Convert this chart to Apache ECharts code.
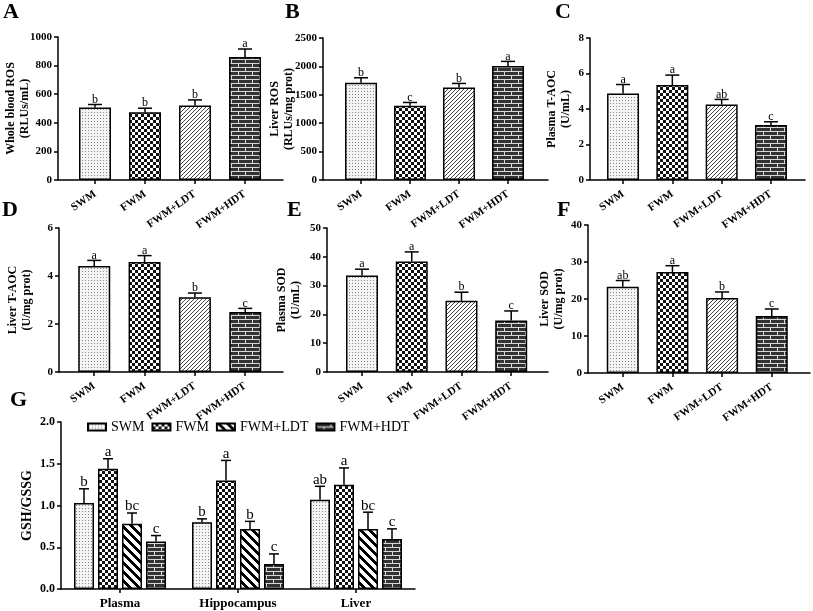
<!DOCTYPE html>
<html><head><meta charset="utf-8">
<script src="https://cdn.jsdelivr.net/npm/echarts@6/dist/echarts.min.js"></script>
<style>html,body{margin:0;padding:0;background:#fff}#c{width:813px;height:611px}</style>
</head><body><div id="c"></div>
<script>
// ---------------- DATA ----------------
const groups = ['SWM', 'FWM', 'FWM+LDT', 'FWM+HDT'];
const tissues = ['Plasma', 'Hippocampus', 'Liver'];

const wholeBloodROS = [507, 474, 521, 860];
const wholeBloodROSErr = [21, 28, 39, 56];
const wholeBloodROSSig = ['b', 'b', 'b', 'a'];

const liverROS = [1712, 1306, 1629, 2006];
const liverROSErr = [88, 59, 71, 82];
const liverROSSig = ['b', 'c', 'b', 'a'];

const plasmaTAOC = [4.87, 5.35, 4.25, 3.10];
const plasmaTAOCErr = [0.51, 0.56, 0.29, 0.18];
const plasmaTAOCSig = ['a', 'a', 'ab', 'c'];

const liverTAOC = [4.42, 4.58, 3.11, 2.50];
const liverTAOCErr = [0.23, 0.27, 0.18, 0.15];
const liverTAOCSig = ['a', 'a', 'b', 'c'];

const plasmaSOD = [33.5, 38.4, 24.7, 17.9];
const plasmaSODErr = [2.2, 3.3, 3.0, 3.3];
const plasmaSODSig = ['a', 'a', 'b', 'c'];

const liverSOD = [23.3, 27.3, 20.3, 15.4];
const liverSODErr = [1.7, 1.7, 1.6, 1.9];
const liverSODSig = ['ab', 'a', 'b', 'c'];

const gshSWM = [1.03, 0.80, 1.07];
const gshSWMErr = [0.17, 0.04, 0.16];
const gshSWMSig = ['b', 'b', 'ab'];
const gshFWM = [1.44, 1.30, 1.25];
const gshFWMErr = [0.12, 0.24, 0.20];
const gshFWMSig = ['a', 'a', 'a'];
const gshLDT = [0.78, 0.72, 0.72];
const gshLDTErr = [0.13, 0.09, 0.20];
const gshLDTSig = ['bc', 'b', 'bc'];
const gshHDT = [0.57, 0.30, 0.60];
const gshHDTErr = [0.07, 0.12, 0.12];
const gshHDTSig = ['c', 'c', 'c'];

const yMaxes = [1000, 2500, 8, 6, 50, 40, 2.0];
const yIntervals = [200, 500, 2, 2, 10, 10, 0.5];
const yNames = ['Whole blood ROS\n(RLUs/mL)', 'Liver ROS\n(RLUs/mg prot)', 'Plasma T-AOC\n(U/mL)',
  'Liver T-AOC\n(U/mg prot)', 'Plasma SOD\n(U/mL)', 'Liver SOD\n(U/mg prot)', 'GSH/GSSG'];
const panelLetters = ['A', 'B', 'C', 'D', 'E', 'F', 'G'];

// ---------------- STYLE ----------------
const SERIF = '"Liberation Serif","Times New Roman",serif';
function pat(w, h, draw) {
  const c = document.createElement('canvas'); c.width = w; c.height = h;
  const ctx = c.getContext('2d'); draw(ctx, w, h);
  return { image: c, repeat: 'repeat' };
}
const dots = pat(3, 3, (ctx) => { ctx.fillStyle = '#f4f4f4'; ctx.fillRect(0, 0, 3, 3); ctx.fillStyle = '#8a8a8a'; ctx.fillRect(1, 1, 1, 1); });
const checker = pat(6, 6, (ctx) => { ctx.fillStyle = '#fff'; ctx.fillRect(0, 0, 6, 6); ctx.fillStyle = '#111'; ctx.fillRect(3, 0, 3, 3); ctx.fillRect(0, 3, 3, 3); });
const fineDiag = pat(4, 4, (ctx) => { ctx.fillStyle = '#fff'; ctx.fillRect(0, 0, 4, 4); ctx.fillStyle = '#444';
  for (let x = 0; x < 4; x++) for (let y = 0; y < 4; y++) if ((x + y) % 4 === 0) ctx.fillRect(x, y, 1, 1); });
const wideDiag = pat(9, 9, (ctx) => { ctx.fillStyle = '#fff'; ctx.fillRect(0, 0, 9, 9); ctx.fillStyle = '#000';
  for (let x = 0; x < 9; x++) for (let y = 0; y < 9; y++) if (((x - y) % 9 + 9) % 9 < 4) ctx.fillRect(x, y, 1, 1); });
const brick = pat(14, 8, (ctx) => { ctx.fillStyle = '#333'; ctx.fillRect(0, 0, 14, 8); ctx.fillStyle = '#d8d8d8';
  ctx.fillRect(0, 3, 14, 1); ctx.fillRect(0, 7, 14, 1); ctx.fillRect(0, 0, 1, 3); ctx.fillRect(7, 4, 1, 3); });
const patsAF = [dots, checker, fineDiag, brick];
const patsG = [dots, checker, wideDiag, brick];

// layout per panel (grid position + x-extent of value axis)
const layout = [
  { left: 58, top: 37, width: 225, height: 143, xmin: 0.26, xmax: 4.76, nameGap: 26, lx: 3, ly: 1 },
  { left: 323, top: 38, width: 225, height: 142, xmin: 0.224, xmax: 4.816, nameGap: 27, lx: 285, ly: 1 },
  { left: 590, top: 38, width: 215, height: 142, xmin: 0.33, xmax: 4.69, nameGap: 17, lx: 555, ly: 1 },
  { left: 59, top: 228, width: 224, height: 144, xmin: 0.30, xmax: 4.75, nameGap: 25, lx: 2, ly: 199 },
  { left: 327, top: 228, width: 221, height: 144, xmin: 0.296, xmax: 4.74, nameGap: 24, lx: 287, ly: 199 },
  { left: 588, top: 225, width: 222, height: 148, xmin: 0.30, xmax: 4.77, nameGap: 22, lx: 557, ly: 199 },
  { left: 61, top: 422, width: 354, height: 167, nameGap: 27, lx: 10, ly: 389 }
];

const panelData = [
  [wholeBloodROS, wholeBloodROSErr, wholeBloodROSSig],
  [liverROS, liverROSErr, liverROSSig],
  [plasmaTAOC, plasmaTAOCErr, plasmaTAOCSig],
  [liverTAOC, liverTAOCErr, liverTAOCSig],
  [plasmaSOD, plasmaSODErr, plasmaSODSig],
  [liverSOD, liverSODErr, liverSODSig]
];
const gData = [[gshSWM, gshSWMErr, gshSWMSig], [gshFWM, gshFWMErr, gshFWMSig], [gshLDT, gshLDTErr, gshLDTSig], [gshHDT, gshHDTErr, gshHDTSig]];

const AXLINE = { show: true, lineStyle: { color: '#000', width: 1.5 } };
const AXTICK = { show: true, length: 4, lineStyle: { color: '#000', width: 1.5 } };

function errRender(sig, capHalf, fontSize, offset) {
  return function (params, api) {
    const x = api.value(0), m = api.value(1), t = api.value(2);
    const p0 = api.coord([x, m]), p1 = api.coord([x, t]);
    const cx = p0[0] + offset;
    return { type: 'group', children: [
      { type: 'line', shape: { x1: cx, y1: p0[1], x2: cx, y2: p1[1] }, style: { stroke: '#000', lineWidth: 1.5 } },
      { type: 'line', shape: { x1: cx - capHalf, y1: p1[1], x2: cx + capHalf, y2: p1[1] }, style: { stroke: '#000', lineWidth: 1.5 } },
      { type: 'text', x: cx, y: p1[1] + 1, style: { text: sig[params.dataIndex], fill: '#000', font: fontSize + 'px ' + SERIF,
        align: 'center', verticalAlign: 'bottom', textAlign: 'center', textVerticalAlign: 'bottom' } }
    ] };
  };
}

const grid = [], xAxis = [], yAxis = [], series = [], graphic = [];
layout.forEach((L, k) => {
  grid.push({ left: L.left, top: L.top, width: L.width, height: L.height, containLabel: false, outerBoundsMode: 'none' });
  yAxis.push({ gridIndex: k, type: 'value', min: 0, max: yMaxes[k], interval: yIntervals[k],
    axisLine: AXLINE, axisTick: AXTICK, splitLine: { show: false },
    axisLabel: { color: '#000', fontFamily: SERIF, fontWeight: 'bold', fontSize: k === 6 ? 12 : 11, margin: 6,
      formatter: k === 6 ? (v) => v.toFixed(1) : (v) => String(v) },
    name: yNames[k], nameLocation: 'middle', nameGap: L.nameGap, nameMoveOverlap: false,
    nameTextStyle: { color: '#000', fontFamily: SERIF, fontWeight: 'bold', fontSize: k === 6 ? 14 : 12, lineHeight: 14 } });
  graphic.push({ type: 'text', left: L.lx, top: L.ly, style: { text: panelLetters[k], font: 'bold 22px ' + SERIF, fill: '#000' } });
  if (k < 6) {
    const [mean, err, sig] = panelData[k];
    xAxis.push({ gridIndex: k, type: 'value', min: L.xmin, max: L.xmax, splitLine: { show: false },
      axisLine: { ...AXLINE, onZero: false },
      axisTick: { ...AXTICK, customValues: groups.map((g, i) => i + 1) },
      axisLabel: { customValues: groups.map((g, i) => i + 1), formatter: (v) => groups[Math.round(v) - 1],
        rotate: 35, margin: 13, color: '#000', fontFamily: SERIF, fontWeight: 'bold', fontSize: 11 } });
    series.push({ type: 'bar', xAxisIndex: k, yAxisIndex: k, barWidth: 32, z: 2,
      data: mean.map((v, i) => ({ value: [i + 1, v], itemStyle: { color: patsAF[i], borderColor: '#000', borderWidth: 1.5 } })) });
    series.push({ type: 'custom', xAxisIndex: k, yAxisIndex: k, z: 3,
      renderItem: errRender(sig, 7, 12, 0),
      data: mean.map((v, i) => [i + 1, v, v + err[i]]) });
  } else {
    xAxis.push({ gridIndex: k, type: 'category', data: tissues, axisLine: AXLINE,
      axisTick: { ...AXTICK, alignWithLabel: true },
      axisLabel: { color: '#000', fontFamily: SERIF, fontWeight: 'bold', fontSize: 13, margin: 8 } });
    gData.forEach(([mean, err, sig], g) => {
      series.push({ type: 'bar', name: groups[g], xAxisIndex: k, yAxisIndex: k, barWidth: 20, barGap: '20%', z: 2,
        itemStyle: { color: patsG[g], borderColor: '#000', borderWidth: 1.5 }, data: mean });
    });
    gData.forEach(([mean, err, sig], g) => {
      series.push({ type: 'custom', xAxisIndex: k, yAxisIndex: k, z: 3,
        renderItem: errRender(sig, 5, 15, (g - 1.5) * 24),
        data: mean.map((v, i) => [i, v, v + err[i]]) });
    });
  }
});

const chart = echarts.init(document.getElementById('c'), null, { renderer: 'canvas' });
chart.setOption({
  animation: false,
  backgroundColor: '#fff',
  grid, xAxis, yAxis, series, graphic,
  legend: { data: groups, left: 82, top: 415, itemWidth: 18, itemHeight: 7, itemGap: 7,
    textStyle: { color: '#000', fontFamily: SERIF, fontSize: 14 }, icon: 'rect' }
});
</script></body></html>
